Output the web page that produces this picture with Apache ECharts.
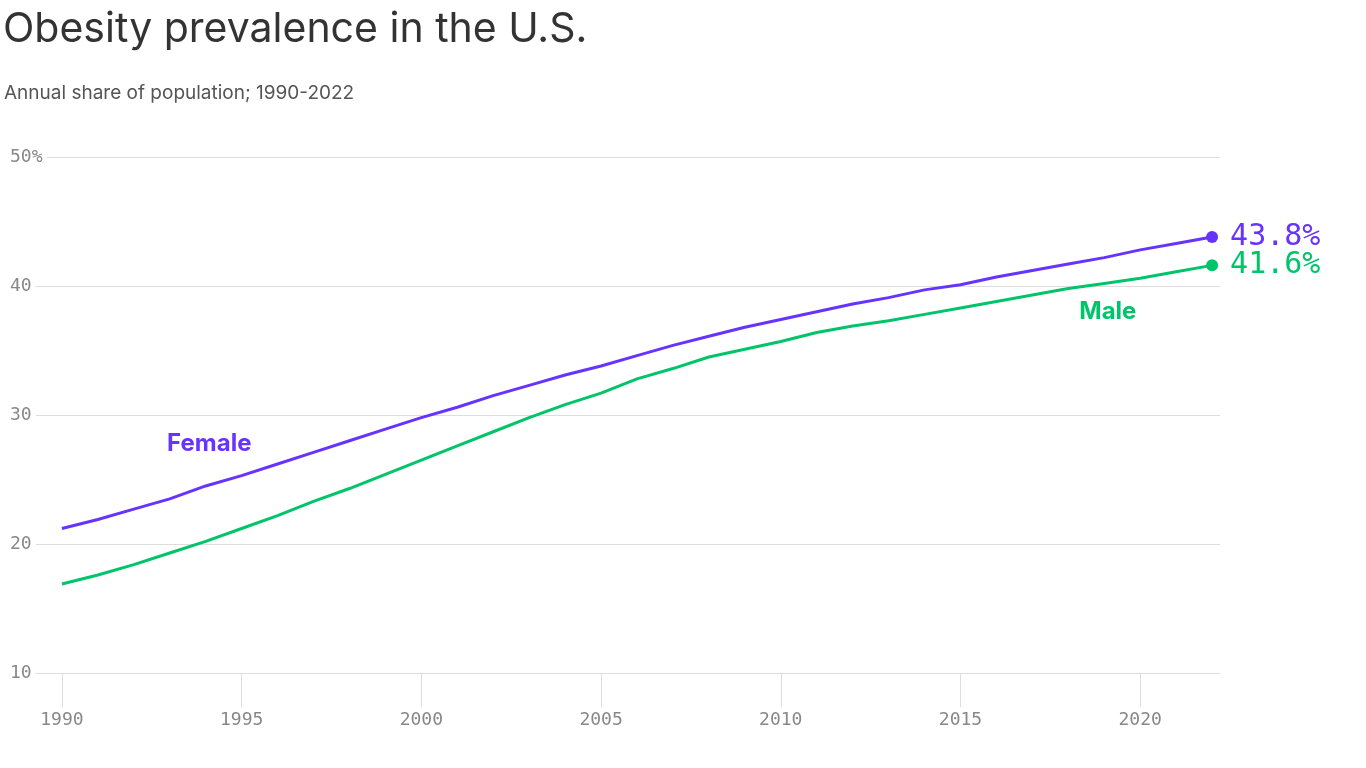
<!DOCTYPE html>
<html>
<head>
<meta charset="utf-8">
<script src="https://cdn.jsdelivr.net/npm/echarts@6/dist/echarts.min.js"></script>
<style>
html,body{margin:0;padding:0;background:#fff;}
#chart{width:1366px;height:768px;}
</style>
</head>
<body>
<div id="chart"></div>
<script>
const years = [1990,1991,1992,1993,1994,1995,1996,1997,1998,1999,2000,2001,2002,2003,2004,2005,2006,2007,2008,2009,2010,2011,2012,2013,2014,2015,2016,2017,2018,2019,2020,2021,2022];
const female = [21.2,21.9,22.7,23.5,24.5,25.3,26.2,27.1,28.0,28.9,29.8,30.6,31.5,32.3,33.1,33.8,34.6,35.4,36.1,36.8,37.4,38.0,38.6,39.1,39.7,40.1,40.7,41.2,41.7,42.2,42.8,43.3,43.8];
const male = [16.9,17.6,18.4,19.3,20.2,21.2,22.2,23.3,24.3,25.4,26.5,27.6,28.7,29.8,30.8,31.7,32.8,33.6,34.5,35.1,35.7,36.4,36.9,37.3,37.8,38.3,38.8,39.3,39.8,40.2,40.6,41.1,41.6];
const xTicks = [1990,1995,2000,2005,2010,2015,2020];
const yTicks = [10,20,30,40,50];
const seriesNames = ['Female','Male'];
const labelPos = {Female:[1994.1,27.8], Male:[2019.1,38.0]};
const colors = {Female:'#6633ff', Male:'#00c46a'};

const chart = echarts.init(document.getElementById('chart'));
const data = {Female: female, Male: male};
const mono = '"DejaVu Sans Mono", "Liberation Mono", monospace';
const sans = 'Inter, Roboto, sans-serif';

const series = [];
seriesNames.forEach(name => {
  const vals = data[name];
  series.push({
    name: name,
    type: 'line',
    data: years.map((y,i)=>[y, vals[i]]),
    showSymbol: false,
    symbol: 'none',
    lineStyle: {color: colors[name], width: 3},
    itemStyle: {color: colors[name]},
    z: 3,
    silent: true,
    markPoint: {
      symbol: 'circle',
      symbolSize: 1,
      itemStyle: {color: 'rgba(0,0,0,0)'},
      label: {show: true, position: 'inside', formatter: name, color: colors[name], fontSize: 24, fontWeight: 'bold', fontFamily: sans},
      data: [{coord: labelPos[name]}]
    }
  });
  const last = vals.length - 1;
  series.push({
    type: 'scatter',
    data: [[years[last], vals[last]]],
    symbol: 'circle',
    symbolSize: 12,
    itemStyle: {color: colors[name], opacity: 1},
    z: 4,
    silent: true,
    label: {
      show: true, position: 'right', distance: 12,
      formatter: p => p.value[1].toFixed(1) + '%',
      color: colors[name], fontSize: 30, opacity: 1,
      fontFamily: mono
    }
  });
});

chart.setOption({
  animation: false,
  backgroundColor: '#fff',
  title: [
    {text: 'Obesity prevalence in the U.S.', left: -2, top: 4,
     textStyle: {fontSize: 41, fontWeight: 'normal', color: '#333', fontFamily: sans}},
    {text: 'Annual share of population; 1990-2022', left: -1, top: 79,
     textStyle: {fontSize: 19, fontWeight: 'normal', color: '#555', fontFamily: sans}}
  ],
  grid: {left: 8, right: 146, top: 157, bottom: 95, containLabel: false},
  xAxis: {
    type: 'value', min: 1988.5, max: 2022.22,
    axisLine: {show: false},
    splitLine: {show: false},
    axisTick: {show: true, customValues: xTicks, length: 34, lineStyle: {color: '#ddd', width: 1}},
    axisLabel: {customValues: xTicks, margin: 38, color: '#888', fontSize: 18,
      fontFamily: mono, formatter: v => String(v)}
  },
  yAxis: {
    type: 'value', min: 10, max: 50, interval: 10,
    axisLine: {show: false},
    axisTick: {show: false},
    splitLine: {show: true, lineStyle: {color: '#ddd', width: 1}},
    axisLabel: {inside: true, margin: 0, color: '#888', fontSize: 18,
      fontFamily: mono,
      backgroundColor: '#fff', padding: [2, 4, 2, 2],
      formatter: v => v === 50 ? v + '%' : String(v)}
  },
  series: series
});
</script>
</body>
</html>
